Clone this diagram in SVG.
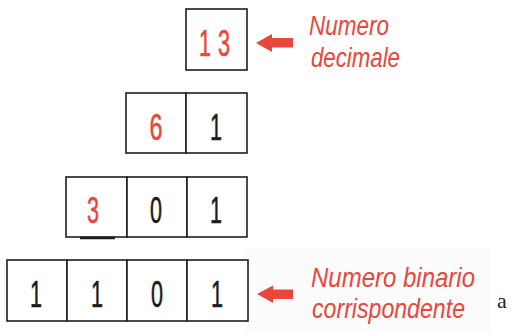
<svg xmlns="http://www.w3.org/2000/svg" width="514" height="333" viewBox="0 0 514 333">
<style>
.cell{fill:#fff;stroke:#1e1e1e;stroke-width:1.6}
.d{font-family:"Liberation Sans",Arial,sans-serif;font-size:37px;text-anchor:middle;stroke-width:0.6}
.k{fill:#1c1c1c;stroke:#1c1c1c}
.r{fill:#e8473c;stroke:#e8473c}
.lab{font-family:"Liberation Sans",Arial,sans-serif;font-size:27px;font-style:italic;fill:#e8473c}
.arr{fill:#e8473c}
</style>
<rect width="514" height="333" fill="#fff"/>
<rect x="243" y="247" width="247" height="86" fill="#fcfcfc"/>
<g id="node-13">
<rect class="cell" x="186" y="9" width="61" height="61"/>
<text class="d r" x="205" y="56" textLength="12" lengthAdjust="spacingAndGlyphs">1</text>
<text class="d r" x="224" y="56" textLength="12" lengthAdjust="spacingAndGlyphs">3</text>
</g>
<g id="node-6-1">
<rect class="cell" x="126" y="93" width="60" height="60"/>
<rect class="cell" x="186" y="93" width="61" height="60"/>
<text class="d r" x="156" y="140" textLength="13" lengthAdjust="spacingAndGlyphs">6</text>
<text class="d k" x="216" y="140" textLength="12" lengthAdjust="spacingAndGlyphs">1</text>
</g>
<g id="node-3-0-1">
<rect class="cell" x="66" y="177" width="61" height="60"/>
<rect class="cell" x="127" y="177" width="60" height="60"/>
<rect class="cell" x="187" y="177" width="60" height="60"/>
<line x1="80" y1="238" x2="115" y2="238" stroke="#1e1e1e" stroke-width="2.5"/>
<text class="d r" x="93" y="223" textLength="12" lengthAdjust="spacingAndGlyphs">3</text>
<text class="d k" x="156" y="223" textLength="12" lengthAdjust="spacingAndGlyphs">0</text>
<text class="d k" x="216" y="223" textLength="12" lengthAdjust="spacingAndGlyphs">1</text>
</g>
<g id="node-1101">
<rect class="cell" x="7" y="260" width="60" height="61"/>
<rect class="cell" x="67" y="260" width="60" height="61"/>
<rect class="cell" x="127" y="260" width="60" height="61"/>
<rect class="cell" x="187" y="260" width="61" height="61"/>
<text class="d k" x="36" y="307" textLength="12" lengthAdjust="spacingAndGlyphs">1</text>
<text class="d k" x="97" y="307" textLength="12" lengthAdjust="spacingAndGlyphs">1</text>
<text class="d k" x="157" y="307" textLength="12" lengthAdjust="spacingAndGlyphs">0</text>
<text class="d k" x="217" y="307" textLength="12" lengthAdjust="spacingAndGlyphs">1</text>
</g>
<g id="connectors">
<polygon class="arr" points="256,43 272,34 272,38 293,38 293,47.5 272,47.5 272,52"/>
<polygon class="arr" points="257,294 273,285.5 273,289.5 293,289.5 293,299 273,299 273,303"/>
</g>
<g id="labels">
<text class="lab" x="309" y="35" textLength="80" lengthAdjust="spacingAndGlyphs">Numero</text>
<text class="lab" x="311" y="67" textLength="89" lengthAdjust="spacingAndGlyphs">decimale</text>
<text class="lab" x="311" y="287" textLength="164" lengthAdjust="spacingAndGlyphs">Numero binario</text>
<text class="lab" x="312" y="318" textLength="153" lengthAdjust="spacingAndGlyphs">corrispondente</text>
<text x="497" y="308" font-family="Liberation Serif,serif" font-size="22" fill="#222">a</text>
</g>
</svg>
